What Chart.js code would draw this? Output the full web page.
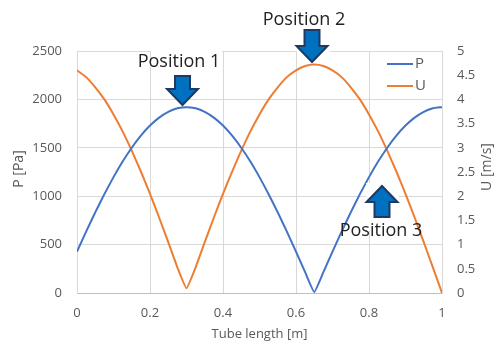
<!DOCTYPE html>
<html>
<head>
<meta charset="utf-8">
<script src="https://cdn.jsdelivr.net/npm/chart.js@4/dist/chart.umd.min.js"></script>
<style>
  html, body { margin: 0; padding: 0; background: #fff; }
  #wrap { width: 494px; height: 344px; position: relative; }
</style>
</head>
<body>
<div id="wrap"><canvas id="waveChart"></canvas></div>
<script>
// tube length positions [m]
var tubeLength = [0, 0.025, 0.05, 0.075, 0.1, 0.125, 0.15, 0.175, 0.2, 0.225, 0.25, 0.275, 0.3,
    0.325, 0.35, 0.375, 0.4, 0.425, 0.45, 0.475, 0.5, 0.525, 0.55, 0.575, 0.6, 0.625, 0.65,
    0.675, 0.7, 0.725, 0.75, 0.775, 0.8, 0.825, 0.85, 0.875, 0.9, 0.925, 0.95, 0.975, 1];
// pressure P [Pa]
var pressure = [427, 634, 833, 1021, 1197, 1358, 1501, 1626, 1730, 1812, 1872, 1908, 1920,
    1908, 1872, 1812, 1730, 1626, 1501, 1358, 1197, 1021, 833, 634, 427, 215, 10,
    215, 427, 634, 833, 1021, 1197, 1358, 1501, 1626, 1730, 1812, 1872, 1908, 1920];
// velocity U [m/s]
var velocity = [4.60, 4.46, 4.25, 4.00, 3.69, 3.34, 2.94, 2.51, 2.05, 1.56, 1.05, 0.53, 0.1,
    0.53, 1.05, 1.56, 2.05, 2.51, 2.94, 3.34, 3.69, 4.00, 4.25, 4.46, 4.60, 4.69, 4.72,
    4.69, 4.60, 4.46, 4.25, 4.00, 3.69, 3.34, 2.94, 2.51, 2.05, 1.56, 1.05, 0.53, 0];

var xTicks = [0, 0.2, 0.4, 0.6, 0.8, 1];
var pTicks = [0, 500, 1000, 1500, 2000, 2500];
var uTicks = [0, 0.5, 1, 1.5, 2, 2.5, 3, 3.5, 4, 4.5, 5];

var seriesNames = ['P', 'U'];
var positionLabels = ['Position 1', 'Position 2', 'Position 3'];

var FONT = '"Open Sans", "Noto Sans", sans-serif';
var GREY = '#595959';
var blue = '#4472C4', orange = '#ED7D31';

function toPoints(ys) {
    return tubeLength.map(function (x, i) { return {x: x, y: ys[i]}; });
}

function plain(v) { return String(v); }

function drawArrow(ctx, cx, yStart, yTip) {
    // block arrow, pointing from yStart toward yTip
    var dir = yTip > yStart ? 1 : -1;
    var head = 16, shaftW = 7.5, headW = 15.5;
    var yHead = yTip - dir * head;
    ctx.beginPath();
    ctx.moveTo(cx - shaftW, yStart);
    ctx.lineTo(cx + shaftW, yStart);
    ctx.lineTo(cx + shaftW, yHead);
    ctx.lineTo(cx + headW, yHead);
    ctx.lineTo(cx, yTip);
    ctx.lineTo(cx - headW, yHead);
    ctx.lineTo(cx - shaftW, yHead);
    ctx.closePath();
    ctx.fillStyle = '#0070C0';
    ctx.fill();
    ctx.lineWidth = 2;
    ctx.strokeStyle = '#1F3864';
    ctx.lineJoin = 'miter';
    ctx.stroke();
}

var extrasPlugin = {
    id: 'extras',
    afterDraw: function (chart) {
        var ctx = chart.ctx;
        var area = chart.chartArea;
        ctx.save();

        // axis titles
        ctx.fillStyle = GREY;
        ctx.font = '13px ' + FONT;
        ctx.textAlign = 'center';
        ctx.textBaseline = 'middle';
        ctx.fillText('Tube length [m]', (area.left + area.right) / 2, 334);
        ctx.font = '14px ' + FONT;
        ctx.save();
        ctx.translate(19, 169);
        ctx.rotate(-Math.PI / 2);
        ctx.fillText('P [Pa]', 0, 0);
        ctx.restore();
        ctx.save();
        ctx.translate(487, 167);
        ctx.rotate(-Math.PI / 2);
        ctx.fillText('U [m/s]', 0, 0);
        ctx.restore();

        // legend
        ctx.fillStyle = '#fff';
        ctx.fillRect(370, 52, 71, 46);
        ctx.lineWidth = 2;
        ctx.strokeStyle = blue;
        ctx.beginPath(); ctx.moveTo(387, 64); ctx.lineTo(413, 64); ctx.stroke();
        ctx.strokeStyle = orange;
        ctx.beginPath(); ctx.moveTo(387, 86); ctx.lineTo(413, 86); ctx.stroke();
        ctx.fillStyle = GREY;
        ctx.font = '15px ' + FONT;
        ctx.textAlign = 'left';
        ctx.fillText(seriesNames[0], 415, 64);
        ctx.fillText(seriesNames[1], 415, 86);

        // white boxes under the callouts
        ctx.fillStyle = '#fff';
        ctx.fillRect(151, 40, 71, 59);
        ctx.fillRect(297, 25, 33, 35);
        ctx.fillRect(366, 183, 33, 48);

        // arrows
        drawArrow(ctx, 182.5, 76, 105);
        drawArrow(ctx, 312, 30, 62);
        drawArrow(ctx, 382, 217, 186);

        // callout texts
        ctx.fillStyle = '#222';
        ctx.font = '18px ' + FONT;
        ctx.textAlign = 'center';
        ctx.textBaseline = 'middle';
        ctx.fillText(positionLabels[0], 179, 62);
        ctx.fillText(positionLabels[1], 304, 20);
        ctx.fillText(positionLabels[2], 381, 231);

        ctx.restore();
    }
};

var ctx = document.getElementById('waveChart').getContext('2d');
new Chart(ctx, {
    type: 'line',
    data: {
        datasets: [
            {
                label: seriesNames[0],
                data: toPoints(pressure),
                yAxisID: 'yP',
                borderColor: blue,
                borderWidth: 2,
                pointRadius: 0,
                tension: 0.12,
                fill: false
            },
            {
                label: seriesNames[1],
                data: toPoints(velocity),
                yAxisID: 'yU',
                borderColor: orange,
                borderWidth: 2,
                pointRadius: 0,
                tension: 0.12,
                fill: false
            }
        ]
    },
    options: {
        responsive: true,
        maintainAspectRatio: false,
        animation: false,
        layout: {padding: {top: 51, left: 0, right: 0, bottom: 0}},
        plugins: {
            legend: {display: false},
            tooltip: {enabled: false}
        },
        scales: {
            x: {
                type: 'linear',
                min: 0, max: 1,
                afterBuildTicks: function (s) { s.ticks = xTicks.map(function (v) { return {value: v}; }); },
                afterFit: function (s) { s.height = 51; },
                grid: {color: '#D9D9D9', drawTicks: false},
                border: {color: '#BFBFBF'},
                ticks: {color: GREY, padding: 12, font: {size: 13, family: FONT}, maxRotation: 0, callback: plain}
            },
            yP: {
                position: 'left',
                min: 0, max: 2500,
                afterBuildTicks: function (s) { s.ticks = pTicks.map(function (v) { return {value: v}; }); },
                afterFit: function (s) { s.width = 77; },
                grid: {color: '#D9D9D9', drawTicks: false},
                border: {color: '#D9D9D9'},
                ticks: {color: GREY, padding: 15, font: {size: 13, family: FONT}, callback: plain}
            },
            yU: {
                position: 'right',
                min: 0, max: 5,
                afterBuildTicks: function (s) { s.ticks = uTicks.map(function (v) { return {value: v}; }); },
                afterFit: function (s) { s.width = 52; },
                grid: {display: false, drawTicks: false},
                border: {color: '#D9D9D9'},
                ticks: {color: GREY, padding: 15, font: {size: 13, family: FONT}, callback: plain}
            }
        }
    },
    plugins: [extrasPlugin]
});
</script>
</body>
</html>
